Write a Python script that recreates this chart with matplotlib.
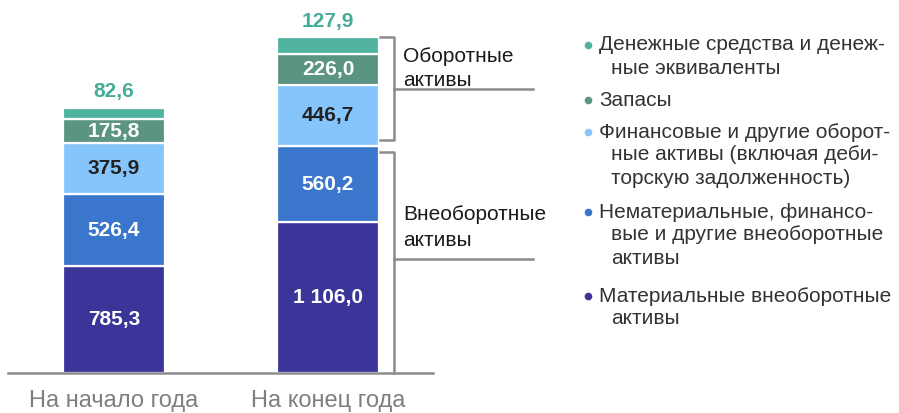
import numpy as np
import matplotlib
matplotlib.use('Agg')
import matplotlib.pyplot as plt

plt.rcParams['font.family'] = ['Liberation Sans', 'DejaVu Sans']

categories = ["На начало года", "На конец года"]
# bottom -> top
series_names = [
    "Материальные внеоборотные\nактивы",
    "Нематериальные, финансо-\nвые и другие внеоборотные\nактивы",
    "Финансовые и другие оборот-\nные активы (включая деби-\nторскую задолженность)",
    "Запасы",
    "Денежные средства и денеж-\nные эквиваленты",
]
material = [785.3, 1106.0]
intangible = [526.4, 560.2]
financial = [375.9, 446.7]
inventory = [175.8, 226.0]
cash = [82.6, 127.9]
series = [material, intangible, financial, inventory, cash]

colors = ['#3b3599', '#3b76cd', '#86c5fc', '#5c9483', '#4fb3a0']
label_colors = ['white', 'white', '#222222', 'white', None]
top_color = '#45ad96'
bracket_color = '#8c8c8c'

W, H = 899, 413


def fmt(v):
    return f"{v:,.1f}".replace(",", " ").replace(".", ",")


fig = plt.figure(figsize=(W / 100, H / 100), dpi=100)
ax = fig.add_axes([0, 0, 1, 1])
ax.axis('off')

px_per_x = 214.0
px_per_y = 336.0 / sum(s[1] for s in series)
base_px = 40.0
ax.set_xlim(-114 / px_per_x, (W - 114) / px_per_x)
ax.set_ylim(-base_px / px_per_y, (H - base_px) / px_per_y)


def xpx(xp):
    return (xp - 114) / px_per_x


def ypx(y):
    # pixel row from top -> data y
    return (H - base_px - y) / px_per_y


x = np.arange(len(categories))
width = 102 / px_per_x
bottom = np.zeros(len(categories))
for vals, col, lc in zip(series, colors, label_colors):
    vals = np.array(vals)
    ax.bar(x, vals, width, bottom=bottom, color=col, edgecolor='white',
           linewidth=1.6, zorder=2)
    for xi, v, b in zip(x, vals, bottom):
        if lc is not None:
            ax.text(xi, b + v / 2, fmt(v), ha='center', va='center',
                    color=lc, fontsize=15, fontweight='bold', zorder=3)
        else:
            ax.text(xi, b + v + 16 / px_per_y, fmt(v), ha='center',
                    va='center', color=top_color, fontsize=15,
                    fontweight='bold', zorder=3)
    bottom = bottom + vals

# baseline
ax.plot([xpx(8), xpx(433)], [0, 0], color=bracket_color, linewidth=1.8,
        zorder=4)

# brackets for the second bar
bx = xpx(394)
tick = 14 / px_per_x
line_end = xpx(533)
noncur_top = material[1] + intangible[1]
total = sum(s[1] for s in series)
gap = 6 / px_per_y

c_lo, c_hi = noncur_top + gap, total
ax.plot([bx - tick, bx, bx, bx - tick], [c_hi, c_hi, c_lo, c_lo],
        color=bracket_color, linewidth=1.8)
c_mid = (c_lo + c_hi) / 2
ax.plot([bx, line_end], [c_mid, c_mid], color=bracket_color, linewidth=1.8)

n_lo, n_hi = 0, noncur_top - gap
ax.plot([bx - tick, bx, bx], [n_hi, n_hi, n_lo],
        color=bracket_color, linewidth=1.8)
n_mid = ypx(259)
ax.plot([bx, line_end], [n_mid, n_mid], color=bracket_color, linewidth=1.8)

tx = xpx(403)
for lines, ys in [(["Оборотные", "активы"], [57, 80]),
                  (["Внеоборотные", "активы"], [215, 240])]:
    for s, yy in zip(lines, ys):
        ax.text(tx, ypx(yy), s, ha='left', va='center', fontsize=15,
                color='#1a1a1a')

# category labels
for xi, c in zip(x, categories):
    ax.text(xi, ypx(401), c, ha='center', va='center', fontsize=17,
            color='#7f7f7f')

# legend (top -> bottom)
leg_y = [45, 100, 132, 212, 296]
for name, col, yy in zip(series_names[::-1], colors[::-1], leg_y):
    ax.plot([xpx(588)], [ypx(yy)], marker='o', markersize=5.5, color=col,
            markeredgewidth=0, linestyle='none')
    for i, line in enumerate(name.split("\n")):
        lx = 599 if i == 0 else 611
        ax.text(xpx(lx), ypx(yy + 23 * i), line, color='#333333',
                fontsize=15, ha='left', va='center')

fig.savefig('out.png', dpi=100)
